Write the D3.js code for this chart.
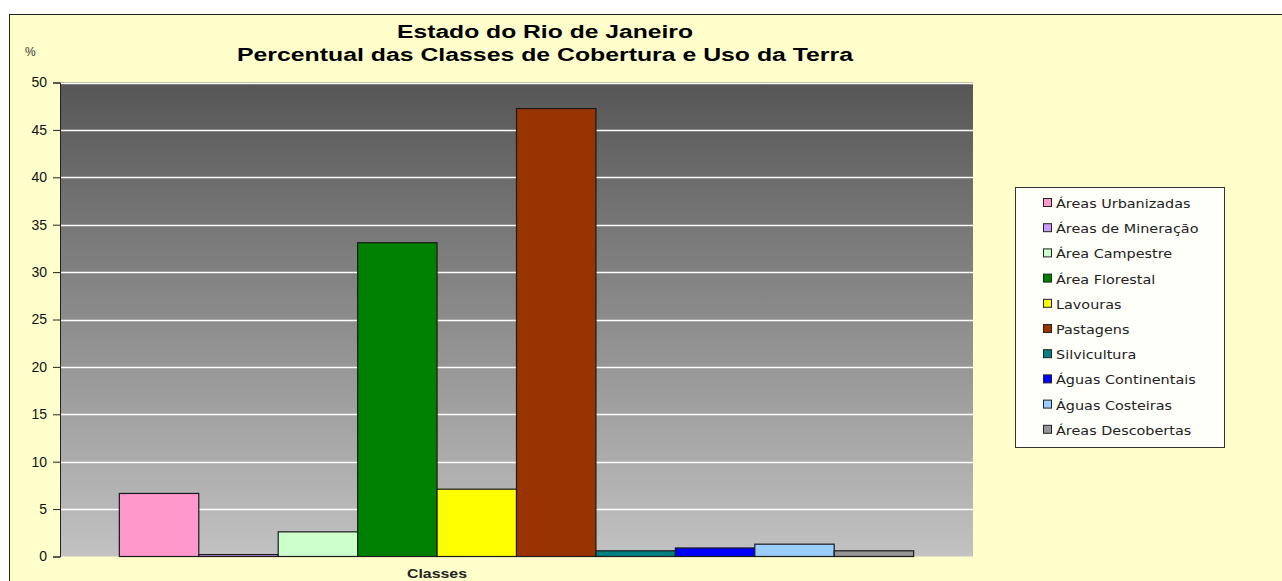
<!DOCTYPE html>
<html>
<head>
<meta charset="utf-8">
<script src="https://cdn.jsdelivr.net/npm/d3@7"></script>
<style>
  body { margin: 0; background: #fff; }
  svg { display: block; }
</style>
</head>
<body>
<div id="chart"></div>
<script>
// data
var classes = ["Áreas Urbanizadas", "Áreas de Mineração", "Área Campestre", "Área Florestal",
               "Lavouras", "Pastagens", "Silvicultura", "Águas Continentais",
               "Águas Costeiras", "Áreas Descobertas"];
var percent = [6.65, 0.2, 2.6, 33.1, 7.1, 47.25, 0.6, 0.9, 1.3, 0.6];
var colors = ["#ff99cc", "#cc99ff", "#ccffcc", "#008000", "#ffff00",
              "#993300", "#008080", "#0000ff", "#99ccff", "#969696"];
var yTicks = [0, 5, 10, 15, 20, 25, 30, 35, 40, 45, 50];

var width = 1282, height = 581;
var plot = { left: 60, top: 82.5, right: 973, bottom: 556.5 };
var pw = plot.right - plot.left;
var stretch = 1.2;   // the original picture is widened horizontally

var svg = d3.select("#chart").append("svg")
    .attr("width", width)
    .attr("height", height);

// outer frame
svg.append("rect")
    .attr("x", 9.5).attr("y", 14.5)
    .attr("width", width).attr("height", height)
    .style("fill", "#ffffcc")
    .style("stroke", "#222");

var grad = svg.append("defs").append("linearGradient")
    .attr("id", "bg").attr("x1", 0).attr("y1", 0).attr("x2", 0).attr("y2", 1);
grad.append("stop").attr("offset", "0%").attr("stop-color", "#565656");
grad.append("stop").attr("offset", "100%").attr("stop-color", "#c2c2c2");

var y = d3.scaleLinear().domain([0, 50]).range([plot.bottom, plot.top]);
var x = d3.scaleBand().domain(classes)
    .range([plot.left + pw * 0.065, plot.right - pw * 0.065]);

svg.append("rect")
    .attr("x", plot.left).attr("y", plot.top)
    .attr("width", pw).attr("height", plot.bottom - plot.top)
    .style("fill", "url(#bg)");

// grid lines
svg.append("g")
    .selectAll("line")
    .data(yTicks.slice(1))
    .enter()
    .append("line")
    .attr("x1", plot.left).attr("x2", plot.right)
    .attr("y1", function(d) { return Math.round(y(d)) + 0.5; })
    .attr("y2", function(d) { return Math.round(y(d)) + 0.5; })
    .style("stroke", "#fff")
    .style("stroke-width", 1.5);

// bars
svg.append("g")
    .selectAll("rect")
    .data(percent)
    .enter()
    .append("rect")
    .attr("x", function(d, i) { return x(classes[i]); })
    .attr("y", function(d) { return y(d); })
    .attr("width", x.bandwidth())
    .attr("height", function(d) { return plot.bottom - y(d); })
    .style("fill", function(d, i) { return colors[i]; })
    .style("stroke", "#1a1a1a")
    .style("stroke-width", 1.2);

// y axis
var yAxis = svg.append("g")
    .attr("transform", "translate(" + plot.left + ",0)")
    .call(d3.axisLeft(y).tickValues(yTicks).tickSize(7).tickPadding(6));
yAxis.select(".domain").attr("stroke", "#222");
yAxis.selectAll(".tick line").attr("stroke", "#222");
yAxis.selectAll("text")
    .style("font-family", "'Liberation Sans', Arial, sans-serif")
    .style("font-size", "14px")
    .style("fill", "#111");

// titles
var titleFont = "'Liberation Sans', Arial, sans-serif";
svg.append("text")
    .attr("x", 545).attr("y", 38)
    .attr("text-anchor", "middle")
    .attr("textLength", 296).attr("lengthAdjust", "spacingAndGlyphs")
    .style("font-family", titleFont).style("font-weight", "bold").style("font-size", "18px")
    .text("Estado do Rio de Janeiro");
svg.append("text")
    .attr("x", 545).attr("y", 61)
    .attr("text-anchor", "middle")
    .attr("textLength", 616).attr("lengthAdjust", "spacingAndGlyphs")
    .style("font-family", titleFont).style("font-weight", "bold").style("font-size", "18px")
    .text("Percentual das Classes de Cobertura e Uso da Terra");
svg.append("text")
    .attr("x", 25).attr("y", 56)
    .style("font-family", titleFont).style("font-size", "12px").style("fill", "#333")
    .text("%");
svg.append("text")
    .attr("x", 437).attr("y", 578)
    .attr("text-anchor", "middle")
    .attr("textLength", 60).attr("lengthAdjust", "spacingAndGlyphs")
    .style("font-family", titleFont).style("font-weight", "bold").style("font-size", "13px")
    .style("fill", "#222")
    .text("Classes");

// legend
var legend = svg.append("g").attr("transform", "translate(1015,187)");
legend.append("rect")
    .attr("x", 0.5).attr("y", 0.5)
    .attr("width", 209).attr("height", 260)
    .style("fill", "#fffffa")
    .style("stroke", "#333");
var item = legend.selectAll("g.item")
    .data(classes)
    .enter()
    .append("g")
    .attr("class", "item")
    .attr("transform", function(d, i) { return "translate(28," + (16 + i * 25.2) + ")"; });
item.append("rect")
    .attr("x", 0.5).attr("y", -4.5)
    .attr("width", 8).attr("height", 8)
    .style("fill", function(d, i) { return colors[i]; })
    .style("stroke", "#222");
item.append("text")
    .attr("transform", "translate(13,5) scale(" + stretch + ",1)")
    .style("font-family", "'DejaVu Sans', Verdana, sans-serif")
    .style("font-size", "12px")
    .style("fill", "#222")
    .text(function(d) { return d; });
</script>
</body>
</html>
